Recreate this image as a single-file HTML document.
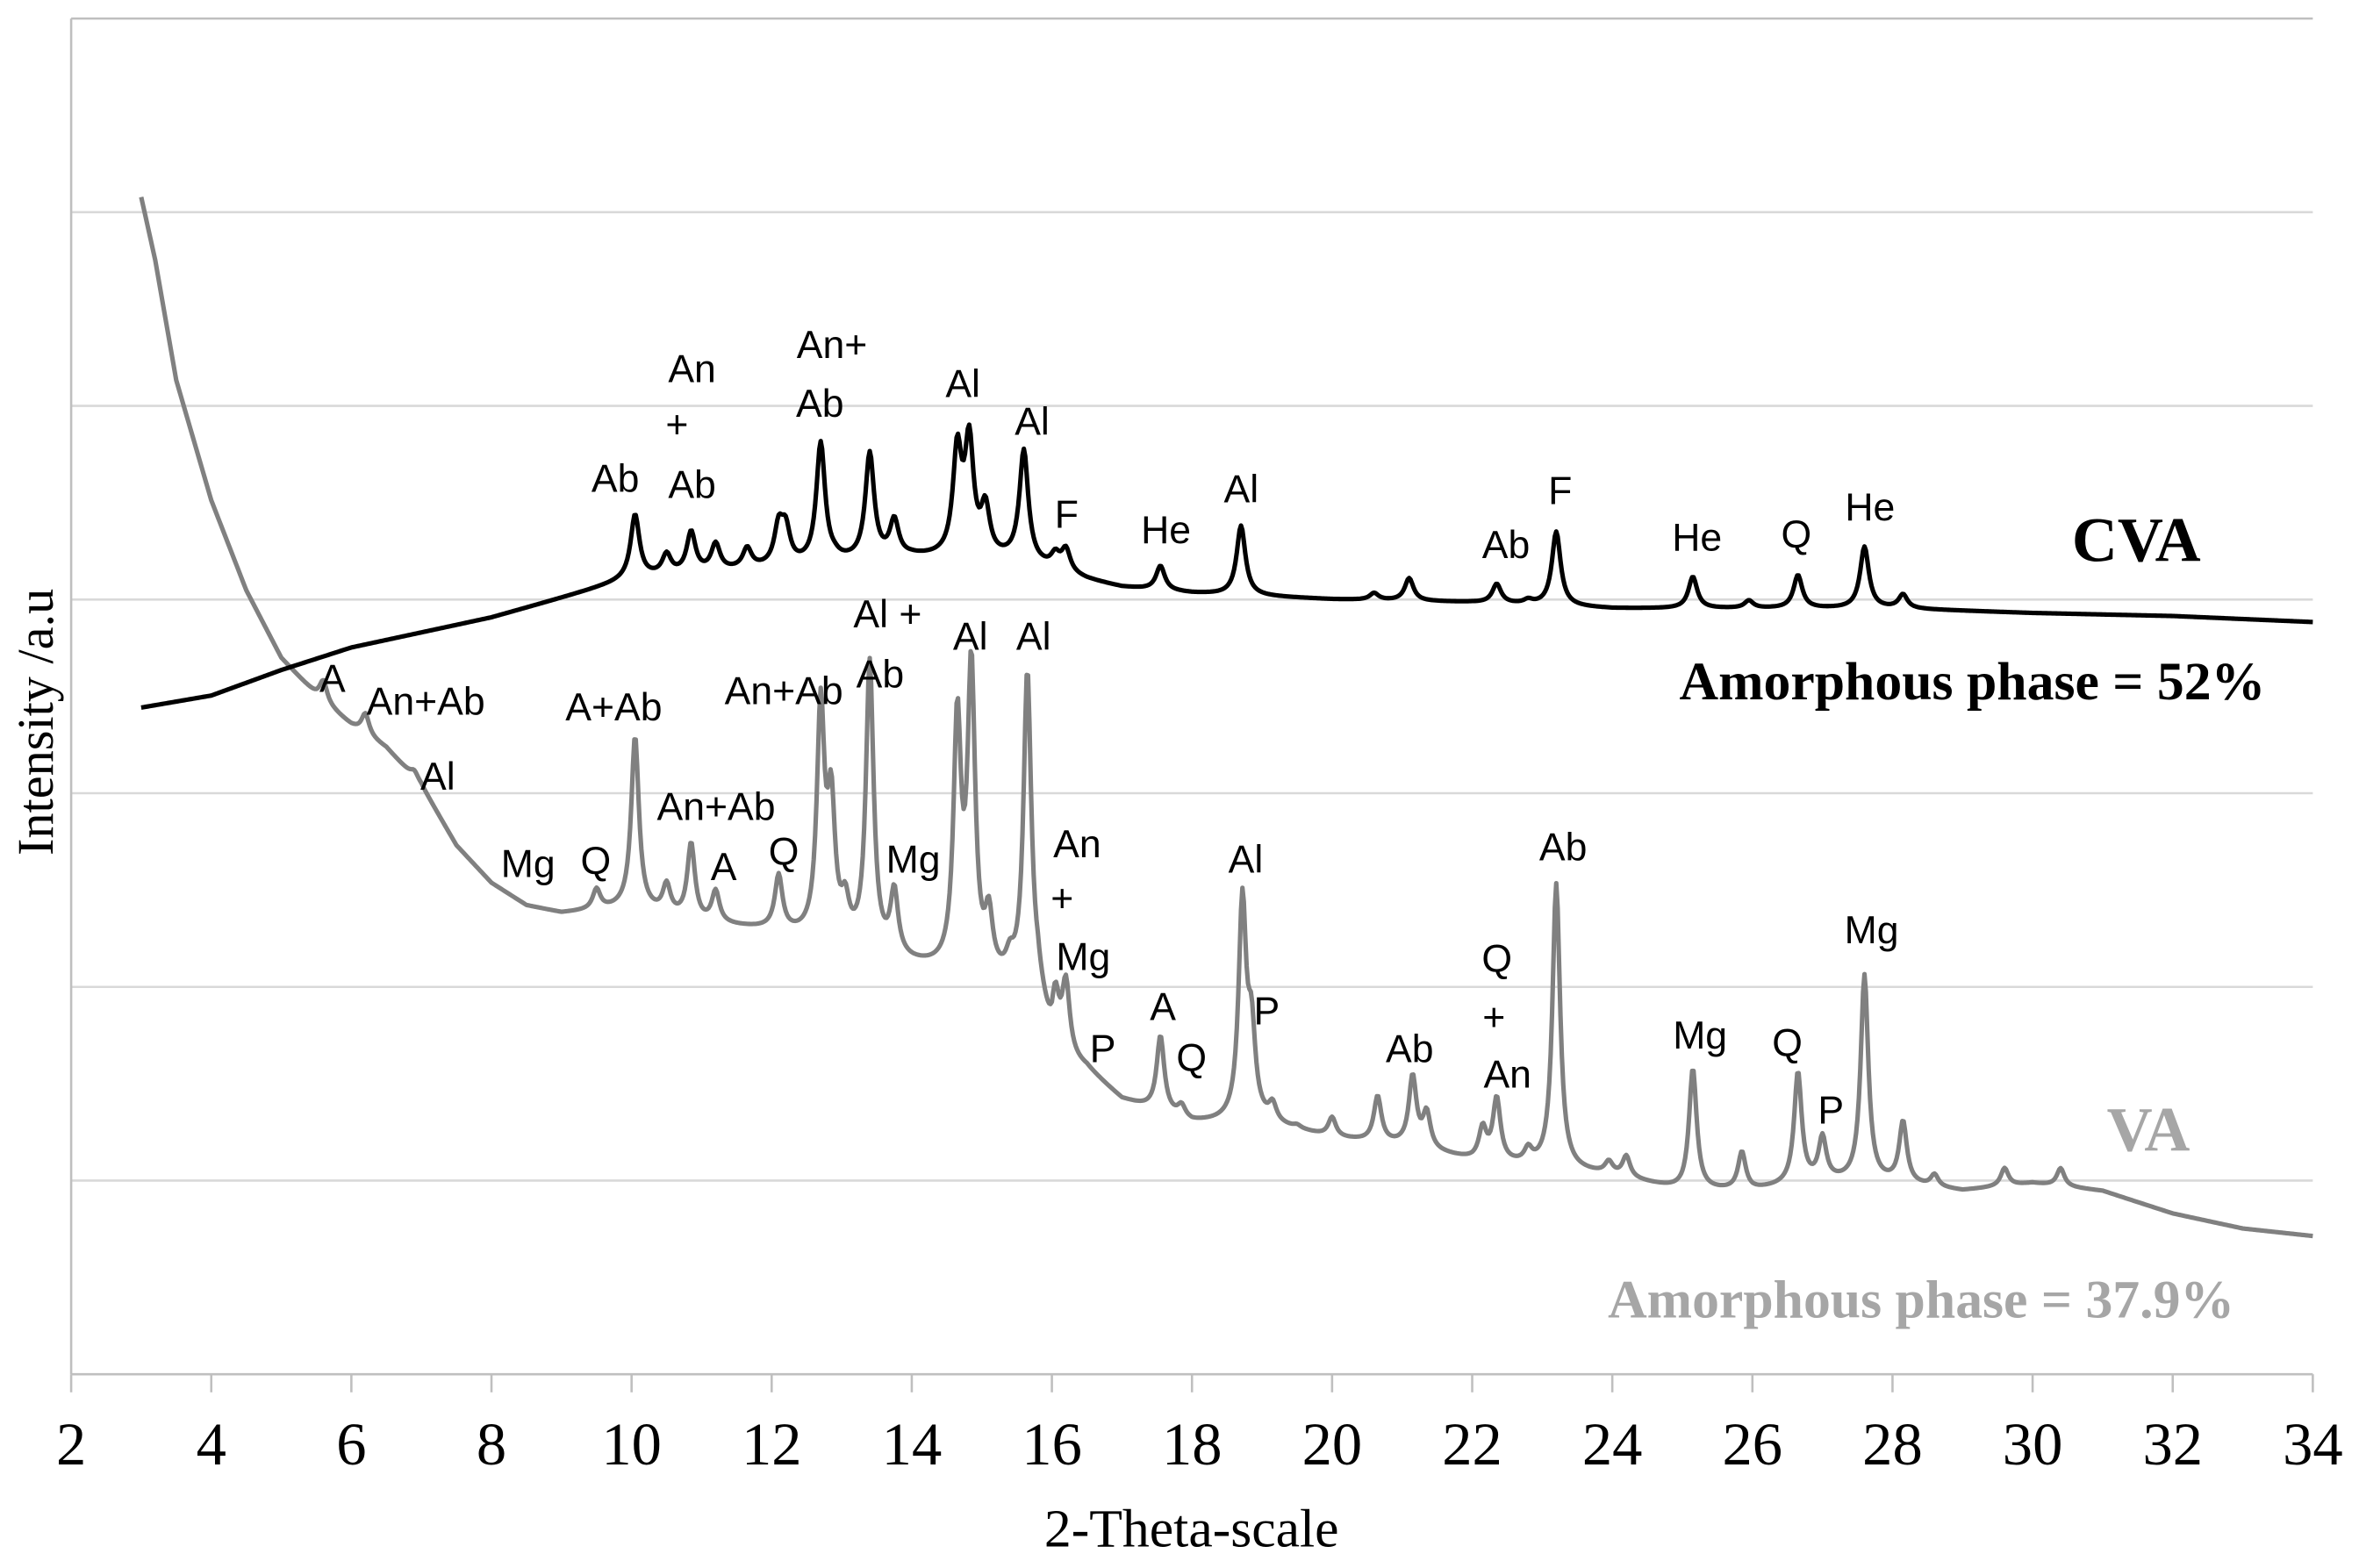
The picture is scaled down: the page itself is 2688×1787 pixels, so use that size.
<!DOCTYPE html>
<html><head><meta charset="utf-8"><style>
html,body{margin:0;padding:0;background:#fff}
svg{display:block}
.lab{font-family:"Liberation Sans",sans-serif;font-size:26px;fill:#000;text-anchor:middle}
.tnr{font-family:"Liberation Serif",serif}
</style></head><body>
<svg id="chart" width="2688" height="1787" viewBox="0 0 1568 1042.4" xmlns="http://www.w3.org/2000/svg">
<g id="grid"></g>
<g id="axes"></g>
<g id="series"></g>
<g id="labels"></g>
<text class="tnr" x="0" y="0" font-size="34" text-anchor="middle" transform="translate(35,480) rotate(-90)">Intensity /a.u</text>
<text class="tnr" x="792" y="1028" font-size="36" text-anchor="middle">2-Theta-scale</text>
<text class="tnr" x="1420" y="373" font-size="42" font-weight="bold" text-anchor="middle">CVA</text>
<text class="tnr" x="1311" y="465" font-size="36" font-weight="bold" text-anchor="middle">Amorphous phase = 52%</text>
<text class="tnr" x="1428" y="765" font-size="42" font-weight="bold" fill="#a6a6a6" text-anchor="middle">VA</text>
<text class="tnr" x="1277" y="876" font-size="36" font-weight="bold" fill="#a6a6a6" text-anchor="middle">Amorphous phase = 37.9%</text>
</svg>
<script>
// ---- data ----
const xTicks = [2,4,6,8,10,12,14,16,18,20,22,24,26,28,30,32,34];
const yGrid = [129,258,387,516,645,774,903];
// CVA background (2θ, intensity)
const cvaBaseX = [3,4,5,6,7,8,9,10,12,14,15.5,16.5,17,18,20,22,24,26,28,30,32,34];
const cvaBaseY = [444,452,469,484,494,504,517,530,537,544,542,529,524,520,516,514,510,510,510,507,505,501];
// CVA peaks (2θ, top intensity)
const cvaPeakX = [10.05,10.5,10.85,11.2,11.65,12.1,12.2,12.7,12.9,13.4,13.75,14.65,14.82,15.05,15.6,16.05,16.2,17.55,18.7,20.6,21.1,22.35,22.8,23.2,25.15,25.95,26.65,27.6,28.15];
const cvaPeakY = [572,545,560,552,549,562,560,619,542,612,567,612,617,574,614,544,548,538,565,520,530,526,515,561,531,515,532,551,519];
// VA background
const vaBaseX = [3,3.2,3.5,4,4.5,5,5.5,6,6.5,7,7.5,8,8.5,9,10,11,12,13,14,15,15.8,16,16.5,17,18,19,20,21,22,23,24,25,26,27,28,29,30,31,32,33,34];
const vaBaseY = [784,742,662,582,522,477,452,432,417,392,352,327,312,307,310,300,295,285,272,262,255,212,202,182,167,167,157,152,142,137,132,122,122,128,127,122,127,122,107,97,92];
// VA peaks
const vaPeakX = [5.6,6.2,6.9,9.5,10.05,10.5,10.85,11.2,12.1,12.7,12.85,13.05,13.4,13.75,14.65,14.85,15.1,15.4,15.65,16.05,16.2,16.7,17.55,17.85,18.72,18.85,19.15,19.5,20.0,20.65,21.15,21.35,22.15,22.35,22.8,23.2,23.95,24.2,25.15,25.85,26.65,27.0,27.6,28.15,28.6,29.6,30.4];
const vaPeakY = [462,440,402,322,424,324,352,320,330,440,372,307,471,317,430,464,298,270,465,247,256,182,224,177,312,222,177,164,170,184,197,172,162,182,147,326,140,144,203,147,200,156,265,167,132,137,137];
// ---- axes ----
const L=47.3,R=1537.3,T=12.3,B=913.6,XMIN=2,XMAX=34,YMAX=903;
const sx=v=>L+(v-XMIN)/(XMAX-XMIN)*(R-L);
const sy=v=>B-v/YMAX*(B-T);
const NS="http://www.w3.org/2000/svg";
function mk(tag,parent,attrs){const e=document.createElementNS(NS,tag);for(const k in attrs)e.setAttribute(k,attrs[k]);parent.appendChild(e);return e;}
const grid=document.getElementById('grid'),axes=document.getElementById('axes'),series=document.getElementById('series'),labels=document.getElementById('labels');
yGrid.forEach(v=>{
  const l=mk('line',grid,{x1:L,x2:R,y1:sy(v),y2:sy(v),stroke:v===YMAX?'#bfbfbf':'#d9d9d9','stroke-width':1.5});
  
  
});
const ya=mk('line',axes,{x1:L,x2:L,y1:T,y2:B,stroke:'#bfbfbf','stroke-width':1.5});


const xa=mk('line',axes,{x1:L,x2:R,y1:B,y2:B,stroke:'#bfbfbf','stroke-width':1.5});


xTicks.forEach(t=>{
  const tk=mk('line',axes,{x1:sx(t),x2:sx(t),y1:B,y2:B+12,stroke:'#bfbfbf','stroke-width':1.5});
  
  
  const tx=mk('text',axes,{x:sx(t),y:B+60,'font-size':40,'text-anchor':'middle','class':'tnr'});
  tx.textContent=t;
  
  
});
function interp(xs,ys,x){
  if(x<=xs[0])return ys[0];
  for(let i=1;i<xs.length;i++){if(x<=xs[i]){const f=(x-xs[i-1])/(xs[i]-xs[i-1]);return ys[i-1]+f*(ys[i]-ys[i-1]);}}
  return ys[ys.length-1];
}
function build(bx,by,px,py,g){
  const hs=px.map((p,i)=>Math.max(0,py[i]-interp(bx,by,p)));
  let d='';
  for(let x=3;x<=34.0001;x+=0.02){
    let v=interp(bx,by,x);
    for(let i=0;i<px.length;i++){const u=(x-px[i])/g;v+=hs[i]/(1+u*u);}
    d+=(d?'L':'M')+sx(x).toFixed(2)+','+sy(v).toFixed(2);
  }
  return d;
}
const va=mk('path',series,{d:build(vaBaseX,vaBaseY,vaPeakX,vaPeakY,0.065),fill:'none',stroke:'#808080','stroke-width':3,'stroke-linejoin':'round'});


const cva=mk('path',series,{d:build(cvaBaseX,cvaBaseY,cvaPeakX,cvaPeakY,0.075),fill:'none',stroke:'#000','stroke-width':3,'stroke-linejoin':'round'});


const labs=[["Ab",409,327],["An",460,254],["+",450,291],["Ab",460,331],["An+",553,238],["Ab",545,277],["Al",640,264],["Al",686,289],["F",709,351],["He",775,361],["Al",825,334],["Ab",1001,371],["F",1037,335],["He",1128,366],["Q",1194,364],["He",1243,346],
["A",221,460],["An+Ab",283,475],["Al",291,525],["Mg",351,583],["Q",396,581],["A+Ab",408,479],["An+Ab",476,545],["A",481,585],["Q",521,575],["An+Ab",521,468],["Al +",590,417],["Ab",585,457],["Mg",607,580],["Al",645,432],["Al",687,432],["An",716,570],["+",706,606],["Mg",720,645],["P",733,706],["A",773,678],["Q",792,712],["Al",828,580],["P",842,681],["Ab",937,706],["Q",995,646],["+",993,685],["An",1002,723],["Ab",1039,572],["Mg",1130,697],["Q",1188,702],["P",1217,747],["Mg",1244,627]];
labs.forEach(a=>{
  const t=mk('text',labels,{x:a[1],y:a[2],'class':'lab'});
  t.textContent=a[0];
  
  
});
</script>
</body></html>
